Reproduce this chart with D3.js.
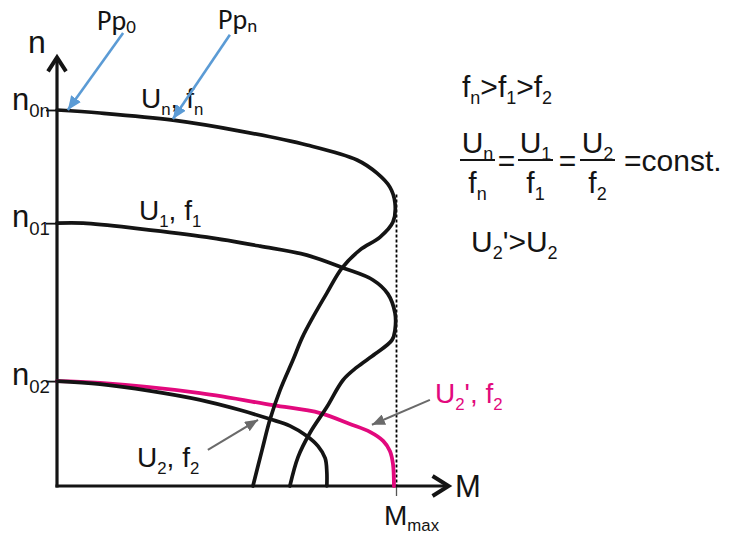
<!DOCTYPE html>
<html>
<head>
<meta charset="utf-8">
<script src="https://cdn.jsdelivr.net/npm/d3@7"></script>
<style>
  html, body { margin: 0; padding: 0; background: #fff; }
  svg { display: block; }
</style>
</head>
<body>
<svg id="chart" width="732" height="535"></svg>
<script>
// Torque–speed characteristics of an induction motor under V/f control.
// M is torque (Mmax = 1), n is speed (no-load speed n0n = 1).

// Characteristic at Un, fn
const curveUn = [
  [0, 1.000], [0.127, 0.992], [0.342, 0.973], [0.540, 0.944], [0.737, 0.907],
  [0.885, 0.867], [0.944, 0.832], [0.982, 0.795], [0.997, 0.753], [0.991, 0.702],
  [0.953, 0.662], [0.894, 0.628], [0.841, 0.580], [0.796, 0.513], [0.755, 0.449],
  [0.723, 0.394], [0.696, 0.335], [0.658, 0.255], [0.628, 0.176], [0.605, 0.096],
  [0.578, 0]
];
// Characteristic at U1, f1
const curveU1 = [
  [0, 0.699], [0.077, 0.699], [0.245, 0.684], [0.442, 0.662], [0.599, 0.638],
  [0.737, 0.614], [0.844, 0.580], [0.932, 0.548], [0.976, 0.511], [0.997, 0.460],
  [0.997, 0.415], [0.988, 0.388], [0.938, 0.351], [0.885, 0.316], [0.844, 0.282],
  [0.796, 0.210], [0.746, 0.141], [0.711, 0.077], [0.687, 0]
];
// Characteristic at U2, f2
const curveU2 = [
  [0, 0.279], [0.127, 0.271], [0.274, 0.253], [0.422, 0.229], [0.540, 0.202],
  [0.628, 0.178], [0.687, 0.160], [0.737, 0.133], [0.770, 0.106], [0.791, 0.074],
  [0.796, 0.037], [0.796, 0]
];
// Characteristic at raised voltage U2', f2
const curveU2p = [
  [0, 0.279], [0.127, 0.274], [0.422, 0.247], [0.637, 0.215], [0.776, 0.194],
  [0.864, 0.165], [0.923, 0.144], [0.962, 0.120], [0.982, 0.093], [0.991, 0.059],
  [0.994, 0]
];

// Speed ticks on the n axis and torque tick on the M axis
const speedTicks = [1.000, 0.699, 0.279];
const speedTickLabels = [["n", "0n"], ["n", "01"], ["n", "02"]];
const torqueTicks = [1];
const Mmax = 1;
const MmaxSpeed = 0.775;   // top of the dotted Mmax guide

const svg = d3.select("#chart");

const x = d3.scaleLinear().domain([0, 1]).range([57, 396]);
const y = d3.scaleLinear().domain([0, 1]).range([486, 110]);

const FONT = "'Liberation Sans Narrow','Arial Narrow','Liberation Sans',Arial,sans-serif";
const BLACK = "#141414";
const MAGENTA = "#e2097d";
const BLUE = "#5b9bd5";
const GREY = "#6a6a6a";

// Arrow markers
const defs = svg.append("defs");
function marker(id, color, len, wid) {
  defs.append("marker")
    .attr("id", id)
    .attr("markerUnits", "userSpaceOnUse")
    .attr("viewBox", `0 0 ${len} ${wid}`)
    .attr("refX", len).attr("refY", wid / 2)
    .attr("markerWidth", len).attr("markerHeight", wid)
    .attr("orient", "auto")
    .append("path")
    .attr("d", `M0,0 L${len},${wid / 2} L0,${wid} Z`)
    .attr("fill", color);
}
marker("headBlue", BLUE, 14, 12);
marker("headGrey", GREY, 13, 11);

// Rich text: sequence of [text, "b"|"s"] pieces laid out left to right
function rich(g, x0, base, pieces, size, color, anchor, subShift) {
  const grp = g.append("g");
  const shiftS = subShift === undefined ? 0.24 : subShift;
  let cx = 0;
  pieces.forEach(([t, k]) => {
    const sz = k === "s" ? size * 0.6 : size;
    const dy = k === "s" ? size * shiftS : 0;
    const el = grp.append("text")
      .attr("x", cx).attr("y", dy)
      .attr("font-family", FONT)
      .attr("font-size", sz)
      .attr("fill", color)
      .text(t);
    cx += el.node().getComputedTextLength();
  });
  const shift = anchor === "middle" ? -cx / 2 : 0;
  grp.attr("transform", `translate(${x0 + shift},${base})`);
  return cx;
}

// Axes
const axisG = svg.append("g");
const yAxis = d3.axisLeft(y).tickValues(speedTicks).tickSize(11).tickSizeOuter(0).tickFormat("");
const gy = axisG.append("g").attr("transform", `translate(${x(0)},0)`).call(yAxis);
gy.select(".domain").remove();
gy.selectAll(".tick line").attr("stroke", BLACK).attr("stroke-width", 1.8);

const xAxis = d3.axisBottom(x).tickValues(torqueTicks).tickSize(10).tickSizeOuter(0).tickFormat("");
const gx = axisG.append("g").attr("transform", `translate(0,${y(0)})`).call(xAxis);
gx.select(".domain").remove();
gx.selectAll(".tick line").attr("stroke", "#555").attr("stroke-width", 1.3);

// Dotted Mmax guide
svg.append("line")
  .attr("x1", x(Mmax) + 0.5).attr("x2", x(Mmax) + 0.5)
  .attr("y1", y(MmaxSpeed)).attr("y2", y(0))
  .attr("stroke", "#000").attr("stroke-width", 1.8)
  .attr("stroke-dasharray", "3,2");

// Axis lines with open arrowheads
const yTop = y(1.14), xEnd = x(1.155);
axisG.append("line").attr("x1", x(0)).attr("x2", x(0)).attr("y1", y(0) + 1.5).attr("y2", yTop + 1)
  .attr("stroke", BLACK).attr("stroke-width", 3.2);
axisG.append("line").attr("x1", x(0) - 1.5).attr("x2", xEnd - 1).attr("y1", y(0)).attr("y2", y(0))
  .attr("stroke", BLACK).attr("stroke-width", 3.2);
axisG.append("path")
  .attr("d", `M${x(0) - 9},${yTop + 14} L${x(0)},${yTop} L${x(0) + 9},${yTop + 14}`)
  .attr("fill", "none").attr("stroke", BLACK).attr("stroke-width", 4)
  .attr("stroke-linejoin", "miter");
axisG.append("path")
  .attr("d", `M${xEnd - 16},${y(0) - 10} L${xEnd},${y(0)} L${xEnd - 16},${y(0) + 10}`)
  .attr("fill", "none").attr("stroke", BLACK).attr("stroke-width", 4)
  .attr("stroke-linejoin", "miter");

// Characteristic curves
const line = d3.line().x(d => x(d[0])).y(d => y(d[1])).curve(d3.curveCatmullRom.alpha(0.5));
const curves = svg.append("g").attr("fill", "none").attr("stroke-linecap", "round").attr("stroke-linejoin", "round");
curves.append("path").datum(curveU2p).attr("d", line).attr("stroke", MAGENTA).attr("stroke-width", 3.8);
[curveUn, curveU1, curveU2].forEach(c =>
  curves.append("path").datum(c).attr("d", line).attr("stroke", BLACK).attr("stroke-width", 3.7));

// Labels
const lab = svg.append("g");
rich(lab, 28, 53, [["n", "b"]], 32, BLACK);
rich(lab, 455, 497, [["M", "b"]], 31, BLACK);
rich(lab, 384, 525, [["M", "b"], ["max", "s"]], 28, BLACK, "start", 0.2);
speedTicks.forEach((v, i) => {
  const [a, b] = speedTickLabels[i];
  rich(lab, 12, y(v) + (i === 0 ? 0 : 4), [[a, "b"], [b, "s"]], 31, BLACK);
});

rich(lab, 141, 108, [["U", "b"], ["n", "s"], [", f", "b"], ["n", "s"]], 28, BLACK);
rich(lab, 139, 220, [["U", "b"], ["1", "s"], [", f", "b"], ["1", "s"]], 28, BLACK);
rich(lab, 137, 467, [["U", "b"], ["2", "s"], [", f", "b"], ["2", "s"]], 28, BLACK);
rich(lab, 435, 403, [["U", "b"], ["2", "s"], ["', f", "b"], ["2", "s"]], 28, MAGENTA);

// Power-supply pointer labels
const PFONT = "Carlito,Lato,'Open Sans','Noto Sans',sans-serif";
svg.append("text").attr("x", 97).attr("y", 30).attr("font-family", PFONT)
  .attr("font-size", 28).attr("fill", BLACK)
  .text("Pp").append("tspan").attr("font-size", 19).attr("dy", 3).text("0");
svg.append("text").attr("x", 218).attr("y", 29).attr("font-family", PFONT)
  .attr("font-size", 28).attr("fill", BLACK)
  .text("Pp").append("tspan").attr("font-size", 19).attr("dy", 3).text("n");

// Pointer arrows (data coordinates)
function arrow(from, to, color, w, head) {
  svg.append("line")
    .attr("x1", x(from[0])).attr("y1", y(from[1]))
    .attr("x2", x(to[0])).attr("y2", y(to[1]))
    .attr("stroke", color).attr("stroke-width", w)
    .attr("marker-end", `url(#${head})`);
}
arrow([0.195, 1.205], [0.032, 1.0], BLUE, 2.6, "headBlue");
arrow([0.510, 1.200], [0.342, 0.976], BLUE, 2.6, "headBlue");
arrow([0.445, 0.096], [0.593, 0.176], GREY, 2, "headGrey");
arrow([1.100, 0.229], [0.929, 0.163], GREY, 2, "headGrey");

// Right-hand relations
const rel = svg.append("g");
rich(rel, 462, 97, [["f", "b"], ["n", "s"], [">f", "b"], ["1", "s"], [">f", "b"], ["2", "s"]], 30, BLACK);

const fracs = [
  { c: 477.5, num: [["U", "b"], ["n", "s"]], den: [["f", "b"], ["n", "s"]], x0: 460, x1: 495 },
  { c: 535.5, num: [["U", "b"], ["1", "s"]], den: [["f", "b"], ["1", "s"]], x0: 518, x1: 553 },
  { c: 597.5, num: [["U", "b"], ["2", "s"]], den: [["f", "b"], ["2", "s"]], x0: 580, x1: 615 }
];
fracs.forEach(f => {
  rich(rel, f.c, 153, f.num, 30, BLACK, "middle");
  rich(rel, f.c, 193, f.den, 30, BLACK, "middle");
  rel.append("line").attr("x1", f.x0).attr("x2", f.x1).attr("y1", 160).attr("y2", 160)
    .attr("stroke", BLACK).attr("stroke-width", 2);
});
rich(rel, 506.5, 171, [["=", "b"]], 30, BLACK, "middle");
rich(rel, 567.5, 171, [["=", "b"]], 30, BLACK, "middle");
rich(rel, 624, 171, [["=const.", "b"]], 30, BLACK);
rich(rel, 471, 252, [["U", "b"], ["2", "s"], ["'>U", "b"], ["2", "s"]], 30, BLACK);
</script>
</body>
</html>
